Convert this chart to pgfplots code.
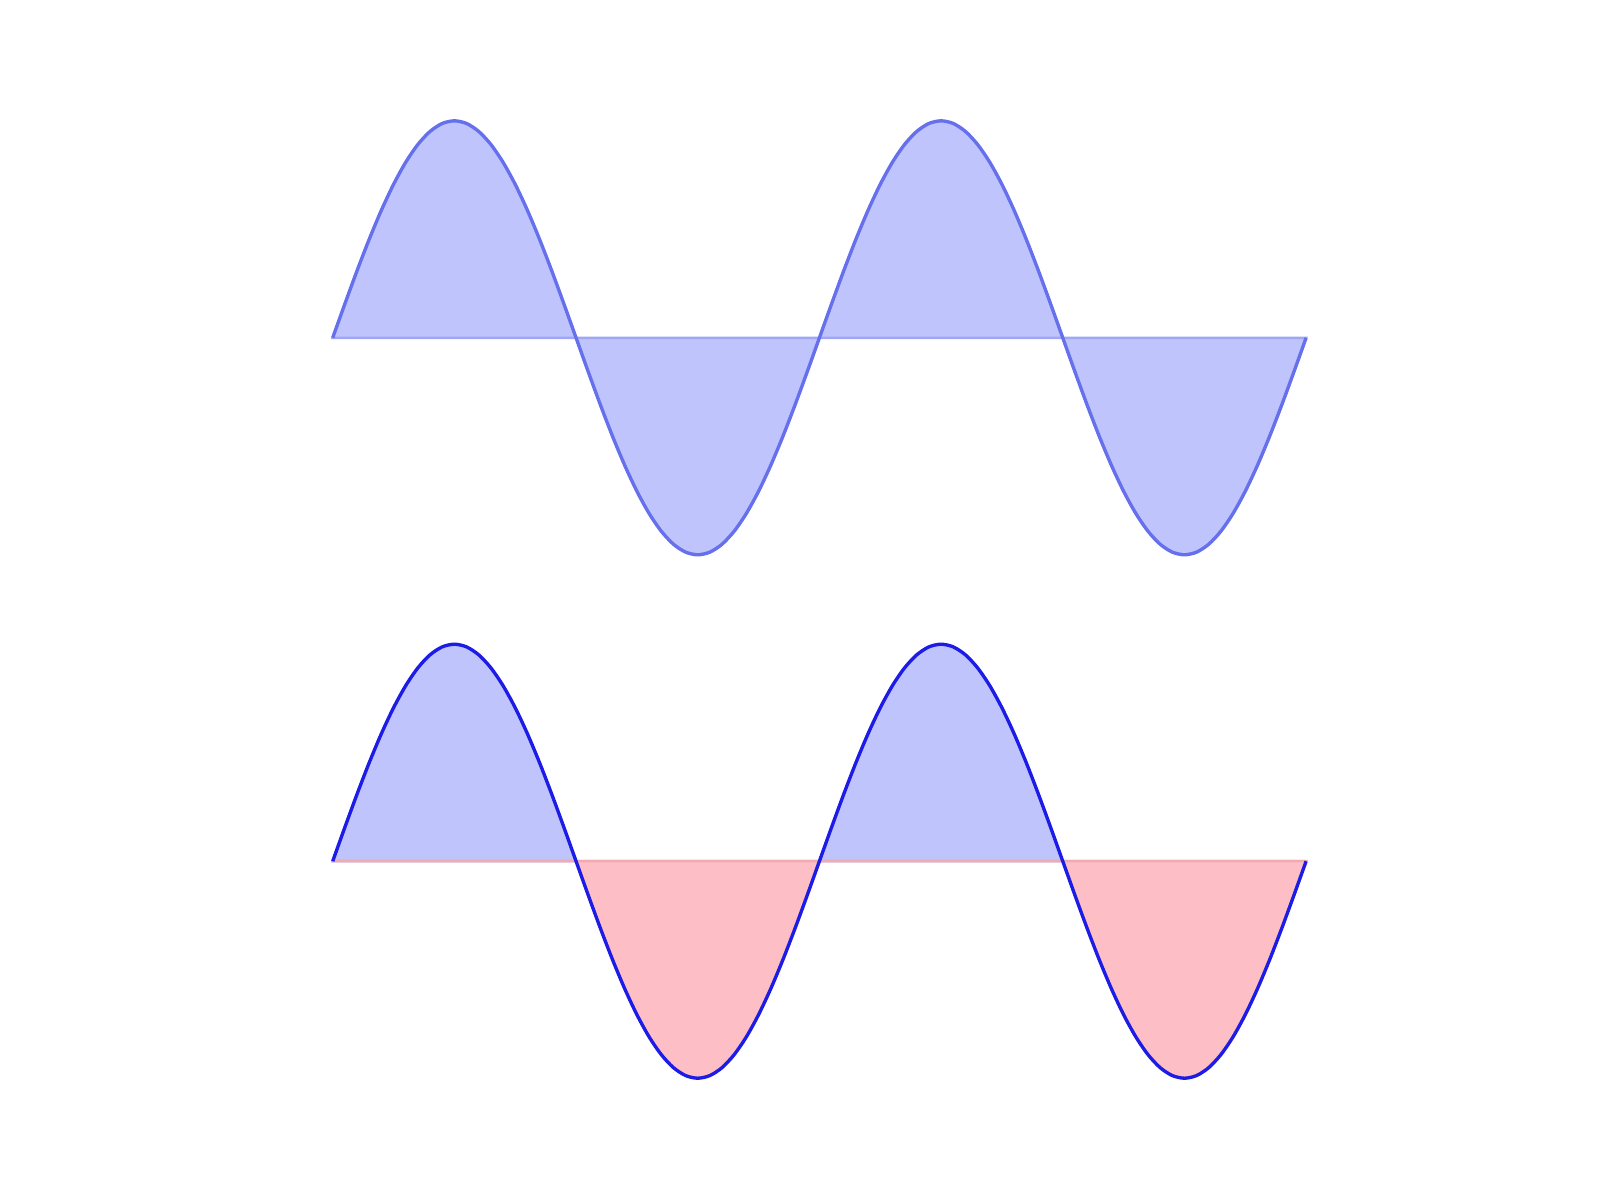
\documentclass[border=0pt]{standalone}
\usepackage{pgfplots}
\pgfplotsset{compat=1.18}
\usepackage{pgfplotstable}
\pgfplotstableread{
x y
0.000 0.0000
0.025 0.1564
0.050 0.3090
0.075 0.4540
0.100 0.5878
0.125 0.7071
0.150 0.8090
0.175 0.8910
0.200 0.9511
0.225 0.9877
0.250 1.0000
0.275 0.9877
0.300 0.9511
0.325 0.8910
0.350 0.8090
0.375 0.7071
0.400 0.5878
0.425 0.4540
0.450 0.3090
0.475 0.1564
0.500 0.0000
0.525 -0.1564
0.550 -0.3090
0.575 -0.4540
0.600 -0.5878
0.625 -0.7071
0.650 -0.8090
0.675 -0.8910
0.700 -0.9511
0.725 -0.9877
0.750 -1.0000
0.775 -0.9877
0.800 -0.9511
0.825 -0.8910
0.850 -0.8090
0.875 -0.7071
0.900 -0.5878
0.925 -0.4540
0.950 -0.3090
0.975 -0.1564
1.000 0.0000
1.025 0.1564
1.050 0.3090
1.075 0.4540
1.100 0.5878
1.125 0.7071
1.150 0.8090
1.175 0.8910
1.200 0.9511
1.225 0.9877
1.250 1.0000
1.275 0.9877
1.300 0.9511
1.325 0.8910
1.350 0.8090
1.375 0.7071
1.400 0.5878
1.425 0.4540
1.450 0.3090
1.475 0.1564
1.500 0.0000
1.525 -0.1564
1.550 -0.3090
1.575 -0.4540
1.600 -0.5878
1.625 -0.7071
1.650 -0.8090
1.675 -0.8910
1.700 -0.9511
1.725 -0.9877
1.750 -1.0000
1.775 -0.9877
1.800 -0.9511
1.825 -0.8910
1.850 -0.8090
1.875 -0.7071
1.900 -0.5878
1.925 -0.4540
1.950 -0.3090
1.975 -0.1564
2.000 0.0000
}\sinedata
\definecolor{fillblue}{RGB}{191,196,252}
\definecolor{fillred}{RGB}{253,191,197}
\definecolor{edgeblue}{RGB}{160,166,245}
\definecolor{edgered}{RGB}{240,170,178}
\definecolor{lineblue}{RGB}{102,112,236}
\definecolor{darkblue}{RGB}{28,28,230}
\begin{document}
\begin{tikzpicture}
\useasboundingbox (0,0) rectangle (16cm,12cm);
\pgfplotsset{every axis/.append style={hide axis, scale only axis, width=9.734cm, height=4.34cm,
  xmin=0, xmax=2, ymin=-1, ymax=1, clip=false, anchor=south west}}
% top panel
\begin{axis}[at={(3.327cm,6.452cm)}]
\addplot[fill=fillblue, draw=edgeblue, line width=0.7pt] table[x=x,y=y] {\sinedata} \closedcycle;
\addplot[lineblue, line width=0.95pt, smooth, line join=round] table[x=x,y=y] {\sinedata};
\end{axis}
% bottom panel
\begin{axis}[at={(3.327cm,1.218cm)}]
\addplot[fill=fillblue, draw=edgeblue, line width=0.7pt] table[x=x,y expr={max(\thisrow{y},0)}] {\sinedata} \closedcycle;
\addplot[fill=fillred, draw=edgered, line width=0.7pt] table[x=x,y expr={min(\thisrow{y},0)}] {\sinedata} \closedcycle;
\addplot[darkblue, line width=0.95pt, smooth, line join=round] table[x=x,y=y] {\sinedata};
\end{axis}
\end{tikzpicture}
\end{document}
